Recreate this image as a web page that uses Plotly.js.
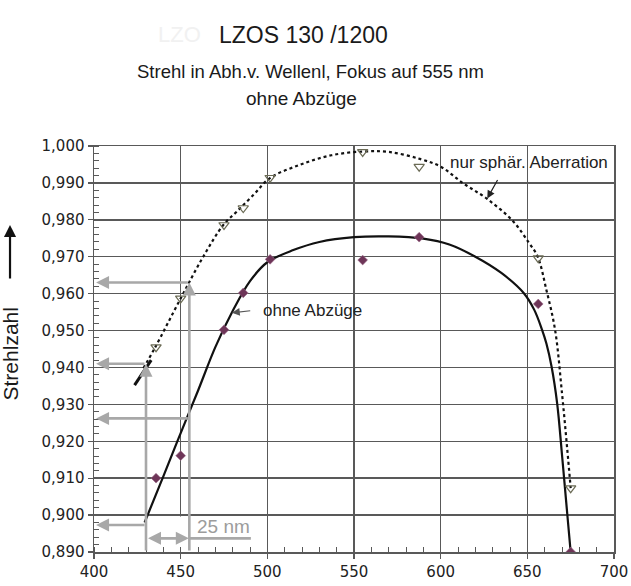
<!DOCTYPE html>
<html>
<head>
<meta charset="utf-8">
<script src="https://cdn.plot.ly/plotly-3.0.1.min.js"></script>
<style>html,body{margin:0;padding:0;background:#fff;}#chart{width:631px;height:586px;}</style>
</head>
<body>
<div id="chart"></div>
<script>
// Measured wavelengths (nm)
const wavelengths = [435.8, 450, 475, 486.1, 501.6, 555, 587.6, 656.3, 675];
// Strehl, spherical aberration only (triangles)
const strehlSpherical = [0.9455, 0.9587, 0.9786, 0.9832, 0.9914, 0.9984, 0.9944, 0.9696, 0.9073];
// Strehl, without deductions (diamonds)
const strehlTotal = [0.910, 0.9161, 0.9502, 0.9602, 0.9693, 0.9691, 0.9753, 0.9572, 0.890];

// Trend curve, spherical only (dotted)
const curveSphX = [428.5, 435, 450, 463, 474.6, 482.3, 491.9, 501.5, 518.8, 537, 555, 570, 588, 600, 613, 627, 642, 651, 656, 661, 666, 670, 673, 675];
const curveSphY = [0.9398, 0.9452, 0.9587, 0.9700, 0.9786, 0.9822, 0.9867, 0.9913, 0.9949, 0.9975, 0.9985, 0.9984, 0.9965, 0.9944, 0.9899, 0.9856, 0.9795, 0.9737, 0.9700, 0.9610, 0.9502, 0.9330, 0.9180, 0.9073];

// Trend curve, without deductions (solid)
const curveTotX = [429.2, 440, 450, 460, 470, 480, 490, 500, 515, 530, 550, 570, 590, 605, 620, 635, 648, 654, 658.5, 661, 664, 667.2, 670.1, 673, 675];
const curveTotY = [0.898, 0.9105, 0.9222, 0.9337, 0.9455, 0.9553, 0.9634, 0.9685, 0.9718, 0.9740, 0.9753, 0.9755, 0.9749, 0.9733, 0.9700, 0.9656, 0.9601, 0.9556, 0.9502, 0.9465, 0.9402, 0.9303, 0.9158, 0.9005, 0.890];

// Short solid extension segment at lower left
const extX = [423.4, 433];
const extY = [0.9352, 0.9420];

// Construction (gray) lines: reading wavelengths and read-off levels
const readWavelengths = [430, 455];
const readLevelsHigh = [0.941, 0.963];   // on spherical curve
const readLevelsLow = [0.8973, 0.9262];  // on total curve
const spanLevel = 0.8937;
const spanEnd = 490.5;

const xTicks = [400, 450, 500, 550, 600, 650, 700];
const yTicks = [0.890, 0.900, 0.910, 0.920, 0.930, 0.940, 0.950, 0.960, 0.970, 0.980, 0.990, 1.000];

const GRID = '#595959';
const GRAY = '#a8a8a8';
const ARIAL = 'Liberation Sans, Arial, sans-serif';

const traces = [
  {x: curveSphX, y: curveSphY, mode: 'lines', line: {color: '#111', width: 2.2, dash: 'dot', shape: 'spline', smoothing: 1}, hoverinfo: 'skip'},
  {x: curveTotX, y: curveTotY, mode: 'lines', line: {color: '#111', width: 2.2, shape: 'spline', smoothing: 1}, hoverinfo: 'skip'},
  {x: extX, y: extY, mode: 'lines', line: {color: '#111', width: 3}, hoverinfo: 'skip'},
  {x: wavelengths, y: strehlSpherical, mode: 'markers', marker: {symbol: 'triangle-down-open', size: 9, color: '#6b6b55', line: {width: 1.2}}},
  {x: wavelengths, y: strehlTotal, mode: 'markers', marker: {symbol: 'diamond', size: 7.5, color: '#6e3558', line: {width: 0.6, color: '#9a6a88'}}}
];

const shapes = [];
const annotations = [];
// white box behind "25 nm" label
shapes.push({type: 'rect', layer: 'between', xref: 'x', yref: 'y', x0: 447.5, x1: 495, y0: 0.8906, y1: 0.8996, fillcolor: '#fff', line: {width: 0}});

readWavelengths.forEach((w, i) => {
  // vertical arrow up from axis
  annotations.push({x: w, y: readLevelsHigh[i], ax: w, ay: 0.890, xref: 'x', yref: 'y', axref: 'x', ayref: 'y', text: '', showarrow: true, arrowhead: 2, arrowsize: 1, arrowwidth: 2.6, arrowcolor: GRAY});
  // horizontal arrows to y axis
  annotations.push({x: 401.2, y: readLevelsHigh[i], ax: w, ay: readLevelsHigh[i], xref: 'x', yref: 'y', axref: 'x', ayref: 'y', text: '', showarrow: true, arrowhead: 2, arrowsize: 1, arrowwidth: 2.6, arrowcolor: GRAY});
  annotations.push({x: 401.2, y: readLevelsLow[i], ax: w, ay: readLevelsLow[i], xref: 'x', yref: 'y', axref: 'x', ayref: 'y', text: '', showarrow: true, arrowhead: 2, arrowsize: 1, arrowwidth: 2.6, arrowcolor: GRAY});
});
// span arrow between the two wavelengths
annotations.push({x: readWavelengths[1] - 0.3, y: spanLevel, ax: readWavelengths[0] + 0.3, ay: spanLevel, xref: 'x', yref: 'y', axref: 'x', ayref: 'y', text: '', showarrow: true, arrowhead: 2, startarrowhead: 2, arrowside: 'end+start', arrowsize: 1, arrowwidth: 2.6, arrowcolor: GRAY});
shapes.push({type: 'line', xref: 'x', yref: 'y', x0: readWavelengths[1], x1: spanEnd, y0: spanLevel, y1: spanLevel, line: {color: GRAY, width: 2.6}});

annotations.push({x: 458.3, y: 0.8969, xref: 'x', yref: 'y', text: '25 nm', showarrow: false, xanchor: 'left', yanchor: 'middle', font: {family: ARIAL, size: 19, color: '#9c9c9c'}});

// curve labels
annotations.push({x: 604.2, y: 0.9954, xref: 'x', yref: 'y', text: 'nur sphär. Aberration', showarrow: false, xanchor: 'left', yanchor: 'middle', font: {family: ARIAL, size: 17, color: '#222'}});
annotations.push({x: 626.9, y: 0.9858, ax: 633.3, ay: 0.9912, xref: 'x', yref: 'y', axref: 'x', ayref: 'y', text: '', showarrow: true, arrowhead: 2, arrowsize: 1.3, arrowwidth: 1.2, arrowcolor: '#222'});
annotations.push({x: 496.3, y: 0.9554, xref: 'x', yref: 'y', text: 'ohne Abzüge', showarrow: false, xanchor: 'left', yanchor: 'middle', font: {family: ARIAL, size: 17, color: '#222'}});
annotations.push({x: 479.6, y: 0.9548, ax: 491, ay: 0.9554, xref: 'x', yref: 'y', axref: 'x', ayref: 'y', text: '', showarrow: true, arrowhead: 2, arrowsize: 1.3, arrowwidth: 1.2, arrowcolor: '#555'});

// titles
annotations.push({x: 0.1635, y: 1.2734, xref: 'paper', yref: 'paper', text: 'LZO', showarrow: false, xanchor: 'center', yanchor: 'middle', font: {family: ARIAL, size: 22, color: '#f1f1f1'}});
annotations.push({x: 0.4025, y: 1.2734, xref: 'paper', yref: 'paper', text: 'LZOS 130 /1200', showarrow: false, xanchor: 'center', yanchor: 'middle', font: {family: ARIAL, size: 23, color: '#1a1a1a'}});
annotations.push({x: 0.4162, y: 1.1823, xref: 'paper', yref: 'paper', text: 'Strehl in Abh.v. Wellenl, Fokus auf 555 nm', showarrow: false, xanchor: 'center', yanchor: 'middle', font: {family: ARIAL, size: 18.5, color: '#1a1a1a'}});
annotations.push({x: 0.399, y: 1.1158, xref: 'paper', yref: 'paper', text: 'ohne Abzüge', showarrow: false, xanchor: 'center', yanchor: 'middle', font: {family: ARIAL, size: 19, color: '#1a1a1a'}});

// y axis title with arrow
annotations.push({x: -0.1587, y: 0.4877, xref: 'paper', yref: 'paper', text: 'Strehlzahl', textangle: -90, showarrow: false, xanchor: 'center', yanchor: 'middle', font: {family: ARIAL, size: 21, color: '#1a1a1a'}});
annotations.push({x: -0.1615, y: 0.8054, xref: 'paper', yref: 'paper', ax: 0, ay: 55, text: '', showarrow: true, arrowhead: 2, arrowsize: 1.1, arrowwidth: 2.2, arrowcolor: '#111'});

const layout = {
  width: 631, height: 586,
  margin: {l: 94, r: 17, t: 146, b: 34, pad: 0},
  paper_bgcolor: '#fff', plot_bgcolor: '#fff',
  showlegend: false,
  separators: ',.',
  xaxis: {
    range: [400, 700], tickvals: xTicks, ticktext: xTicks.map(String),
    showgrid: true, gridcolor: GRID, gridwidth: 1.5, zeroline: false,
    showline: true, linecolor: GRID, linewidth: 1.5, mirror: true,
    ticks: 'outside', ticklen: 5, tickcolor: GRID, tickwidth: 1.3,
    minor: {ticks: 'inside', dtick: 10, tick0: 400, ticklen: 5, tickcolor: GRID, tickwidth: 1, showgrid: false},
    tickfont: {family: 'DejaVu Sans, Verdana, sans-serif', size: 15, color: '#222'},
    fixedrange: true
  },
  yaxis: {
    range: [0.890, 1.000], tickvals: yTicks, tickformat: '.3f',
    showgrid: true, gridcolor: GRID, gridwidth: 1.5, zeroline: false,
    showline: true, linecolor: GRID, linewidth: 1.5, mirror: true,
    ticks: 'outside', ticklen: 5, tickcolor: GRID, tickwidth: 1.3,
    minor: {ticks: 'inside', dtick: 0.002, tick0: 0.890, ticklen: 5, tickcolor: GRID, tickwidth: 1, showgrid: false},
    tickfont: {family: 'DejaVu Sans, Verdana, sans-serif', size: 15, color: '#222'},
    fixedrange: true
  },
  shapes: shapes,
  annotations: annotations
};

Plotly.newPlot('chart', traces, layout, {staticPlot: true, displayModeBar: false});
</script>
</body>
</html>
